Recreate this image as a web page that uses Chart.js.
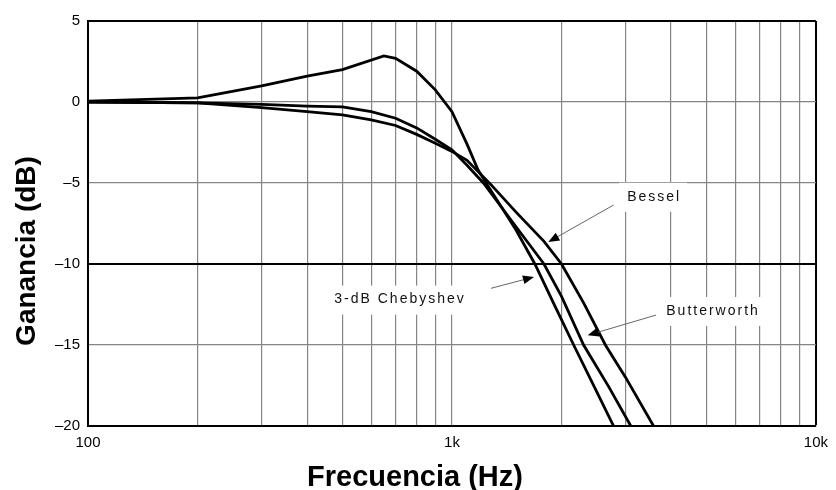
<!DOCTYPE html>
<html>
<head>
<meta charset="utf-8">
<script src="https://cdn.jsdelivr.net/npm/chart.js@4.4.1/dist/chart.umd.min.js"></script>
<style>
  html, body { margin: 0; padding: 0; background: #fff; }
  #wrap { width: 836px; height: 490px; }
</style>
</head>
<body>
<div id="wrap"><canvas id="filter-response-chart" width="836" height="490"></canvas></div>
<script>
// gain (dB) vs frequency (Hz)
const chebyshevFreq = [100, 200, 300, 400, 500, 650, 700, 800, 900, 1000, 1100, 1180, 1250, 1500, 1690, 1900, 2160, 2500, 2780];
const chebyshevGain = [0.05, 0.25, 1.0, 1.6, 2.0, 2.85, 2.7, 1.9, 0.75, -0.6, -2.6, -4.2, -5.1, -7.9, -10.0, -12.4, -15.0, -17.9, -20.0];

const butterworthFreq = [100, 200, 300, 400, 500, 600, 700, 800, 900, 1000, 1100, 1220, 1500, 1790, 2000, 2300, 2700, 3100];
const butterworthGain = [0, -0.05, -0.15, -0.25, -0.3, -0.6, -1.0, -1.6, -2.3, -2.95, -3.9, -5.0, -7.7, -10.0, -12.0, -15.0, -17.6, -20.0];

const besselFreq = [100, 200, 300, 400, 500, 600, 700, 800, 900, 1000, 1100, 1280, 1500, 1790, 2000, 2300, 2640, 3000, 3580];
const besselGain = [0, -0.05, -0.35, -0.6, -0.8, -1.1, -1.45, -2.0, -2.55, -3.05, -3.6, -5.1, -6.8, -8.6, -10.0, -12.4, -15.0, -17.0, -20.0];

const xTicks = [100, 200, 300, 400, 500, 600, 700, 800, 900, 1000, 2000, 3000, 4000, 5000, 6000, 7000, 8000, 9000, 10000];
const xLabels = { 100: "100", 1000: "1k", 10000: "10k" };
const yTicks = [5, 0, -5, -10, -15, -20];

// curve labels with arrows (data coords)
const notes = [
  { text: "Bessel", x: 3030, y: -5.85, align: "left", tip: [1840, -8.64], tail: [2780, -6.36] },
  { text: "3-dB Chebyshev", x: 720, y: -12.2, align: "center", tip: [1680, -10.8], tail: [1280, -11.5] },
  { text: "Butterworth", x: 3880, y: -12.9, align: "left", tip: [2360, -14.4], tail: [3640, -13.15] },
];

const toPoints = (fs, gs) => fs.map((f, i) => ({ x: f, y: gs[i] }));

const line = (label, data) => ({
  label: label,
  data: data,
  borderColor: "#000",
  borderWidth: 2.8,
  pointRadius: 0,
  tension: 0,
  fill: false,
});

const notesPlugin = {
  id: "notes",
  afterDatasetsDraw(chart) {
    const ctx = chart.ctx;
    const xs = chart.scales.x;
    const ys = chart.scales.y;
    ctx.save();
    ctx.font = "14px 'Liberation Sans', Arial, sans-serif";
    ctx.letterSpacing = "2px";
    ctx.textBaseline = "middle";
    notes.forEach((n) => {
      const px = xs.getPixelForValue(n.x);
      const py = ys.getPixelForValue(n.y);
      const w = ctx.measureText(n.text).width;
      const left = n.align === "center" ? px - w / 2 : px;
      ctx.fillStyle = "#fff";
      ctx.fillRect(left - 8, py - 14, w + 14, 29);
      ctx.fillStyle = "#111";
      ctx.textAlign = "left";
      ctx.fillText(n.text, left, py);

      const tx = xs.getPixelForValue(n.tip[0]);
      const ty = ys.getPixelForValue(n.tip[1]);
      const sx = xs.getPixelForValue(n.tail[0]);
      const sy = ys.getPixelForValue(n.tail[1]);
      const a = Math.atan2(ty - sy, tx - sx);
      ctx.strokeStyle = "#666";
      ctx.lineWidth = 1;
      ctx.beginPath();
      ctx.moveTo(sx, sy);
      ctx.lineTo(tx - 8 * Math.cos(a), ty - 8 * Math.sin(a));
      ctx.stroke();
      ctx.fillStyle = "#000";
      ctx.beginPath();
      ctx.moveTo(tx, ty);
      ctx.lineTo(tx - 11 * Math.cos(a) + 4.5 * Math.sin(a), ty - 11 * Math.sin(a) - 4.5 * Math.cos(a));
      ctx.lineTo(tx - 11 * Math.cos(a) - 4.5 * Math.sin(a), ty - 11 * Math.sin(a) + 4.5 * Math.cos(a));
      ctx.closePath();
      ctx.fill();
    });

    // axis titles
    ctx.letterSpacing = "0px";
    ctx.fillStyle = "#000";
    ctx.textAlign = "center";
    ctx.textBaseline = "alphabetic";
    ctx.font = "bold 29px 'Liberation Sans', Arial, sans-serif";
    ctx.fillText("Frecuencia (Hz)", 415, 486);
    ctx.translate(35, 251);
    ctx.rotate(-Math.PI / 2);
    ctx.font = "bold 28px 'Liberation Sans', Arial, sans-serif";
    ctx.fillText("Ganancia (dB)", 0, 0);
    ctx.restore();
  },
};

const gray = "#858585";
const tickFont = { family: "'Liberation Sans', Arial, sans-serif", size: 15 };

new Chart(document.getElementById("filter-response-chart"), {
  type: "line",
  data: {
    datasets: [
      line("3-dB Chebyshev", toPoints(chebyshevFreq, chebyshevGain)),
      line("Butterworth", toPoints(butterworthFreq, butterworthGain)),
      line("Bessel", toPoints(besselFreq, besselGain)),
    ],
  },
  options: {
    responsive: false,
    animation: false,
    devicePixelRatio: 1,
    layout: { padding: { top: 21, right: 18, left: 0, bottom: 0 } },
    plugins: { legend: { display: false }, tooltip: { enabled: false } },
    scales: {
      x: {
        type: "logarithmic",
        min: 100,
        max: 10000,
        afterBuildTicks: (s) => { s.ticks = xTicks.map((v) => ({ value: v })); },
        afterFit: (s) => { s.height = 64; },
        ticks: {
          autoSkip: false,
          maxRotation: 0,
          padding: 8,
          color: "#000",
          font: tickFont,
          callback: (v) => xLabels[v] || "",
        },
        grid: {
          drawTicks: false,
          color: (c) => (c.tick && c.tick.value === 10000 ? "#000" : gray),
          lineWidth: (c) => (c.tick && c.tick.value === 10000 ? 2 : 1.2),
        },
        border: { color: "#000", width: 2 },
      },
      y: {
        min: -20,
        max: 5,
        afterBuildTicks: (s) => { s.ticks = yTicks.map((v) => ({ value: v })); },
        afterFit: (s) => { s.width = 88; },
        ticks: {
          padding: 8,
          color: "#000",
          font: tickFont,
          callback: (v) => String(v).replace("-", "\u2013"),
        },
        grid: {
          drawTicks: false,
          color: (c) => (c.tick && (c.tick.value === -10 || c.tick.value === 5) ? "#000" : gray),
          lineWidth: (c) => (c.tick && (c.tick.value === -10 || c.tick.value === 5) ? 2 : 1.2),
        },
        border: { color: "#000", width: 2 },
      },
    },
  },
  plugins: [notesPlugin],
});
</script>
</body>
</html>
